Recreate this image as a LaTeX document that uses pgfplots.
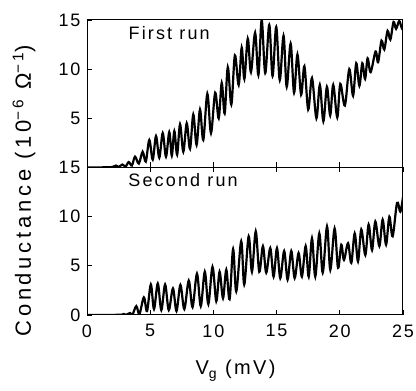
\documentclass[border=0pt]{standalone}
\usepackage{fontspec}
\setmainfont{Liberation Sans}[LetterSpace=10]
\newfontfamily\lab{Liberation Sans}[LetterSpace=12]
\newfontfamily\ylab{Liberation Sans}[LetterSpace=17]
\usepackage{pgfplots}
\usepackage{pgfplotstable}
\pgfplotsset{compat=1.18}

\pgfplotstableread{
x y
0 0
1.5 0.02
2.0 0.05
2.3 0.2
2.5 0.05
2.8 0.3
3.05 0.1
3.3 0.55
3.55 0.2
3.8 1.1
4.1 0.4
4.4 1.6
4.65 0.6
4.93 2.8
5.2 0.8
5.46 3.2
5.72 1.0
5.99 3.5
6.25 1.1
6.51 3.6
6.71 1.2
6.91 3.7
7.13 1.3
7.36 4.4
7.62 1.6
7.89 4.5
8.15 1.9
8.41 5.4
8.67 2.3
8.94 5.9
9.2 2.8
9.52 7.5
9.81 3.5
10.14 7.6
10.42 5.0
10.66 8.6
10.89 5.5
11.14 10.2
11.42 6.4
11.7 11.4
12.0 8.4
12.24 12.2
12.45 9.0
12.72 13.1
12.97 9.7
13.3 13.7
13.56 9.4
13.82 15.0
14.1 9.6
14.42 14.5
14.68 9.3
14.97 14.3
15.25 8.9
15.55 13.4
15.8 8.2
16.11 12.6
16.38 7.6
16.65 11.5
16.94 7.4
17.2 10.3
17.5 5.9
17.8 9.1
18.15 5.0
18.42 8.4
18.7 4.7
18.98 8.2
19.24 5.3
19.48 8.4
19.8 5.1
20.04 8.5
20.4 6.3
20.75 10.0
21.05 7.3
21.3 10.6
21.55 8.3
21.78 10.6
22.0 9.0
22.2 11.1
22.44 9.7
22.83 11.8
23.03 10.7
23.3 12.9
23.52 12.0
23.78 13.9
24.0 13.0
24.25 14.8
24.45 14.1
24.7 14.9
24.9 14.2
25 14.5
}\firstrun

\pgfplotstableread{
x y
0 0
2.5 0.02
2.9 0.1
3.1 0.02
3.4 0.2
3.6 0.05
3.9 0.9
4.15 0.1
4.5 1.8
4.75 0.4
5.05 3.1
5.3 0.6
5.6 3.2
5.88 0.5
6.18 3.1
6.47 0.5
6.8 2.7
7.08 0.4
7.39 3.06
7.7 0.6
8.05 3.5
8.35 0.8
8.7 4.2
9.0 0.9
9.32 4.4
9.6 1.1
9.93 4.9
10.23 1.4
10.49 4.4
10.76 1.7
11.02 4.6
11.28 1.6
11.56 6.7
11.81 2.4
12.2 7.5
12.44 3.1
12.79 8.0
13.05 4.4
13.35 8.5
13.63 4.4
13.92 7.0
14.18 4.3
14.5 6.8
14.76 3.9
15.03 6.8
15.29 3.75
15.6 6.5
15.87 3.6
16.16 6.5
16.43 3.75
16.74 6.3
17.0 3.9
17.3 7.0
17.54 3.9
17.8 7.8
18.06 3.9
18.38 8.3
18.65 4.3
18.99 9.0
19.25 4.6
19.59 8.8
19.86 4.8
20.12 7.15
20.33 5.6
20.65 7.3
20.91 5.3
21.18 8.3
21.44 5.45
21.7 8.7
22.02 6.1
22.28 9.2
22.55 6.6
22.81 9.5
23.13 7.0
23.39 9.7
23.66 7.15
23.92 10.0
24.18 8.0
24.53 11.4
24.79 10.5
25 12.0
}\secondrun

\pgfplotsset{
  panel/.style={
    width=316pt, height=147.5pt, scale only axis,
    xmin=0, xmax=25, ymin=0, ymax=15,
    anchor=south west,
    tick align=inside,
    major tick length=5pt,
    axis line style={line width=1pt},
    every tick/.style={line width=0.9pt, black},
    tick label style={font=\fontsize{18}{18}\selectfont},
    /pgf/number format/assume math mode=true,
    ytick pos=left,
    yticklabel style={xshift=-3pt},
    xticklabel style={yshift=-6pt},
  },
  curve/.style={black, line width=2.2pt, smooth, tension=0.55},
}

\begin{document}
\begin{tikzpicture}[x=1pt,y=1pt]
\begin{axis}[panel, at={(87pt,223.5pt)},
  xtick={5,10,15,20}, xticklabels={}, xtick pos=bottom,
  ytick={5,10,15}]
  \addplot[curve] table[x=x,y=y] {\firstrun};
  \node[font=\lab\fontsize{18}{18}\selectfont] at (axis cs:6.5,13.7) {First run};
\end{axis}
\begin{axis}[panel, at={(87pt,76pt)},
  xtick={0,5,10,15,20,25}, xtick pos=both, xticklabel pos=bottom,
  ytick={0,5,10,15}]
  \addplot[curve] table[x=x,y=y] {\secondrun};
  \node[font=\lab\fontsize{18}{18}\selectfont] at (axis cs:7.6,13.7) {Second run};
\end{axis}
\node[rotate=90, font=\ylab\fontsize{22}{22}\selectfont] at (24,200) {Conductance (10\textsuperscript{−6} Ω\textsuperscript{−1})};
\node[anchor=base west, font=\lab\fontsize{20}{20}\selectfont] at (192,16) {V\textsubscript{g} (mV)};
\pgfresetboundingbox
\path (0,0) rectangle (416,391);
\end{tikzpicture}
\end{document}
